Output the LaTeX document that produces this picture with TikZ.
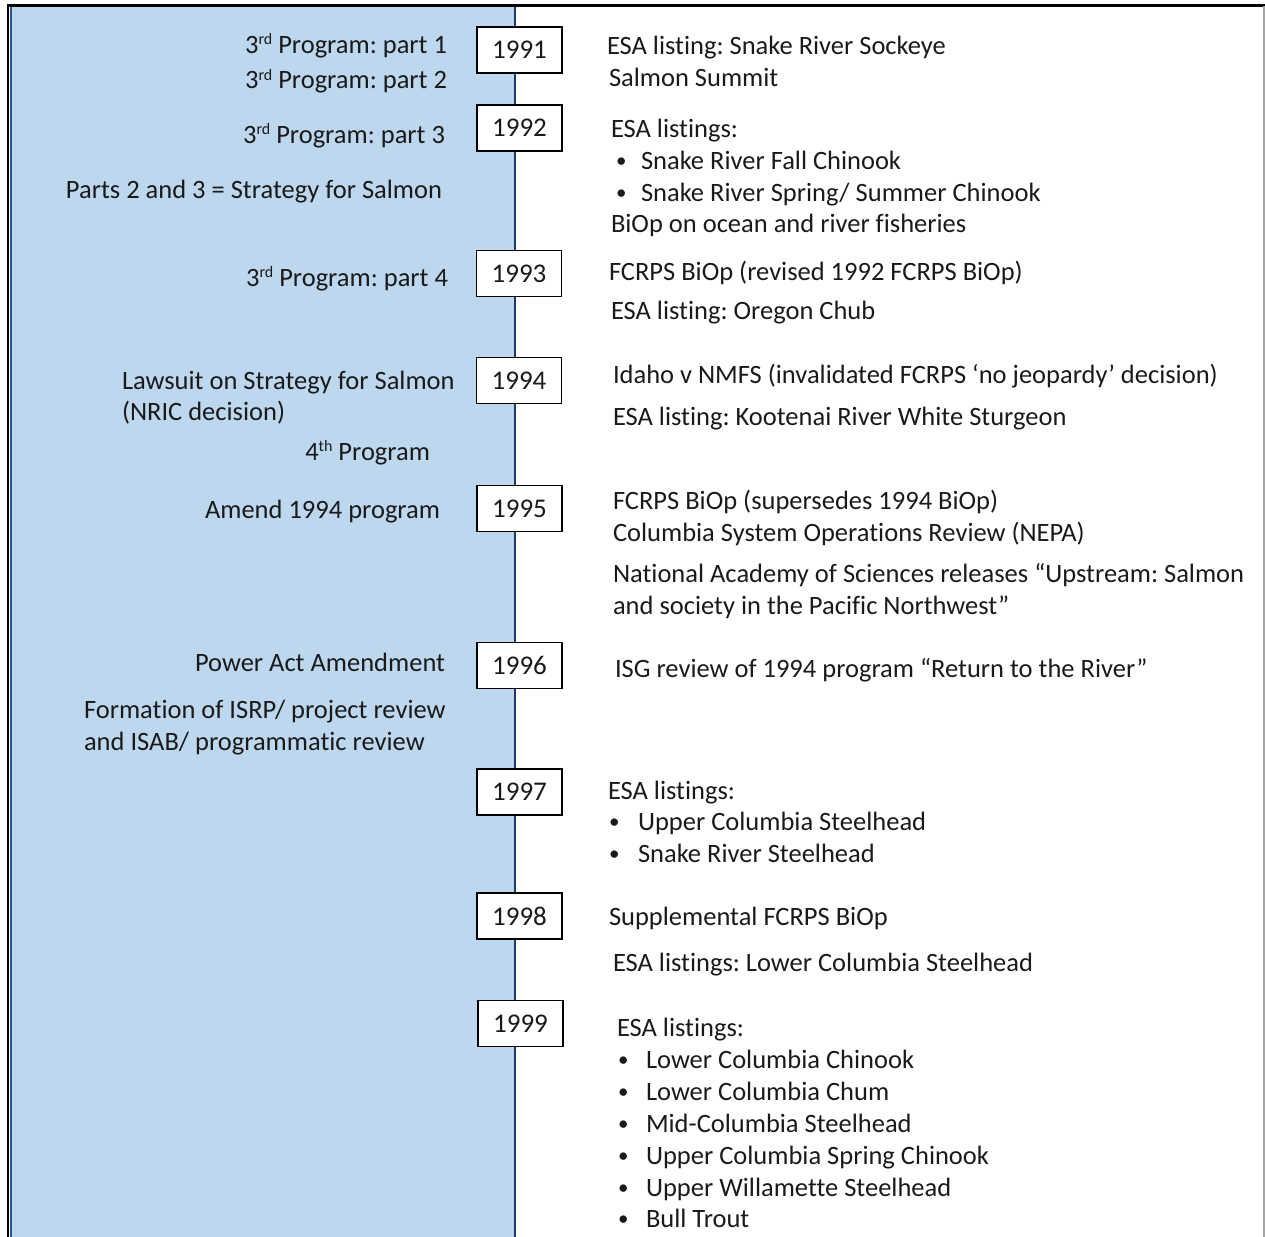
\documentclass[tikz,border=0pt]{standalone}
\usepackage{fontspec}
\setmainfont{Carlito}[Ligatures=NoCommon]
\definecolor{panelblue}{HTML}{BDD7EE}
\definecolor{paneledge}{HTML}{2F528F}
\definecolor{linenavy}{HTML}{1F3864}
\definecolor{txt}{HTML}{1A1A1A}
\newcommand{\lefttxt}[4]{\node[lbl,anchor=base east] (#1) at (#2,#3+9) {#4};}
\newcommand{\lefttxtw}[4]{\node[lbl,anchor=base west] (#1) at (#2,#3+9) {#4};}
\newcommand{\righttxt}[4]{\node[lbl,anchor=base west] (#1) at (#2,#3+9) {#4};}
\newcommand{\smallbul}{\raisebox{1.5pt}{\fontsize{21}{21}\selectfont\textbullet}}
\newcommand{\bul}[5]{\node[lbl,anchor=base west] (#1) at (#2,#4+9) {\smallbul};\node[lbl,anchor=base west] (#1t) at (#3,#4+9) {#5};}
\newcommand{\ord}[1]{\raisebox{9pt}{\fontsize{16}{16}\selectfont #1}}
\begin{document}
\frenchspacing
\begin{tikzpicture}[x=1pt,y=-1pt,
  lbl/.style={inner sep=0pt,outer sep=0pt,text=txt,font=\fontsize{26.5}{32}\selectfont},
  yearbox/.style={draw=black,line width=1.8pt,fill=white,minimum width=85pt,minimum height=46pt,inner sep=0pt,text=txt,font=\fontsize{27}{32}\selectfont}]
\useasboundingbox (0,0) rectangle (1265,1236);
% panel
\fill[panelblue] (10,7) rectangle (515,1240);
\draw[paneledge,line width=2pt] (11,7) -- (11,1240);
\draw[linenavy,line width=2pt] (515,7) -- (515,1240);
% frame
\draw[black,line width=2.6pt] (6.5,5.5) -- (1265,5.5);
\draw[black,line width=2.6pt] (8,4.5) -- (8,1240);
\draw[black!35,line width=1.2pt] (1264,6) -- (1264,1240);
% year boxes
\node[yearbox] (y1991) at (519.5,50) {1991};
\node[yearbox] (y1992) at (519.5,128) {1992};
\node[yearbox] (y1993) at (519,273.5) {1993};
\node[yearbox] (y1994) at (519,380.5) {1994};
\node[yearbox] (y1995) at (519.5,508.5) {1995};
\node[yearbox] (y1996) at (519.5,665.5) {1996};
\node[yearbox] (y1997) at (519.5,792) {1997};
\node[yearbox] (y1998) at (519.5,916) {1998};
\node[yearbox] (y1999) at (520.5,1023.5) {1999};
% left texts
\lefttxt{pa1}{447}{45}{3\ord{rd} Program: part 1}
\lefttxt{pa2}{447}{80}{3\ord{rd} Program: part 2}
\lefttxt{pa3}{445}{134}{3\ord{rd} Program: part 3}
\lefttxt{strat}{442}{189}{Parts 2 and 3 = Strategy for Salmon}
\lefttxt{pa4}{448}{277}{3\ord{rd} Program: part 4}
\lefttxtw{law}{122}{380}{Lawsuit on Strategy for Salmon}
\lefttxtw{nric}{122}{411}{(NRIC decision)}
\lefttxt{p4}{430}{451}{4\ord{th} Program}
\lefttxt{amend}{440}{509}{Amend 1994 program}
\lefttxt{power}{445}{662}{Power Act Amendment}
\lefttxtw{isrp}{84}{709}{Formation of ISRP/ project review}
\lefttxtw{isab}{84}{741}{and ISAB/ programmatic review}
% right texts
\righttxt{r1}{607}{46}{ESA listing: Snake River Sockeye}
\righttxt{r2}{609}{78}{Salmon Summit}
\righttxt{r3}{611}{128}{ESA listings:}
\bul{r4}{616}{641}{160}{Snake River Fall Chinook}
\bul{r5}{616}{641}{192}{Snake River Spring/ Summer Chinook}
\righttxt{r6}{611}{223}{BiOp on ocean and river fisheries}
\righttxt{r7}{609}{271}{FCRPS BiOp (revised 1992 FCRPS BiOp)}
\righttxt{r8}{611}{310}{ESA listing: Oregon Chub}
\righttxt{r9}{613}{374}{Idaho v NMFS (invalidated FCRPS ‘no jeopardy’ decision)}
\righttxt{r10}{613}{416}{ESA listing: Kootenai River White Sturgeon}
\righttxt{r11}{613}{500}{FCRPS BiOp (supersedes 1994 BiOp)}
\righttxt{r12}{613}{532}{Columbia System Operations Review (NEPA)}
\righttxt{r13}{613}{573}{National Academy of Sciences releases “Upstream: Salmon}
\righttxt{r14}{613}{605}{and society in the Pacific Northwest”}
\righttxt{r15}{615}{668}{ISG review of 1994 program “Return to the River”}
\righttxt{r16}{608}{790}{ESA listings:}
\bul{r17}{609}{638}{821}{Upper Columbia Steelhead}
\bul{r18}{609}{638}{853}{Snake River Steelhead}
\righttxt{r19}{609}{916}{Supplemental FCRPS BiOp}
\righttxt{r20}{613}{962}{ESA listings: Lower Columbia Steelhead}
\righttxt{r21}{617}{1027}{ESA listings:}
\bul{r22}{618}{646}{1059}{Lower Columbia Chinook}
\bul{r23}{618}{646}{1091}{Lower Columbia Chum}
\bul{r24}{618}{646}{1123}{Mid-Columbia Steelhead}
\bul{r25}{618}{646}{1155}{Upper Columbia Spring Chinook}
\bul{r26}{618}{646}{1187}{Upper Willamette Steelhead}
\bul{r27}{618}{646}{1218}{Bull Trout}
\end{tikzpicture}
\end{document}
